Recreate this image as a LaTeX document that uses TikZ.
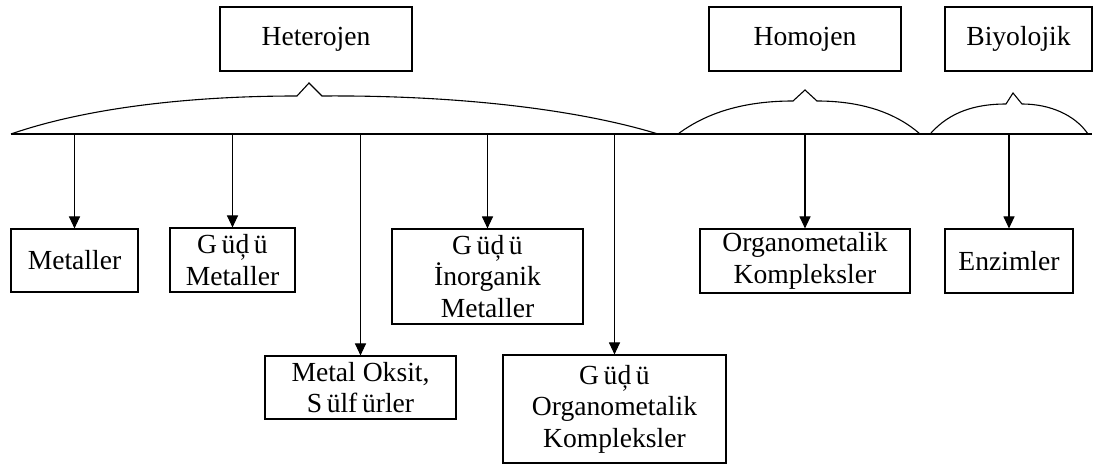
\documentclass[tikz,border=0pt]{standalone}
\usepackage{fontspec}
\setmainfont{Liberation Serif}
\usepackage{tikz}
\usetikzlibrary{arrows.meta}

\begin{document}
\begin{tikzpicture}[x=0.5pt, y=-0.5pt, line width=0.55pt,
    box/.style={draw, align=center, inner sep=0pt, font={\fontsize{13.8pt}{15.75pt}\selectfont}},
    arr/.style={-{Triangle[length=6pt,width=5.5pt]}}]
                \useasboundingbox (0, 0) rectangle (1094, 464);

                % Top boxes
                \node[box, minimum width=96pt, minimum height=32pt] (het) at (316, 39) {Heterojen};
                \node[box, minimum width=96pt, minimum height=32pt] (hom) at (805, 39) {Homojen};
                \node[box, minimum width=73.5pt, minimum height=32pt] (bio) at (1018.5, 39) {Biyolojik};

                % Base line
                \coordinate (L) at (11, 134);
                \coordinate (R) at (1092, 134);
                \draw (L) -- (R);

                % Braces
                \draw (L) .. controls (80, 110) and (180, 96) .. (297, 96) -- (309, 83) -- (322, 96)
                          .. controls (460, 95) and (580, 110) .. (658, 134);
                \draw (678, 134) .. controls (710, 110) and (750, 101) .. (793, 101) -- (805, 90) -- (817, 101)
                          .. controls (860, 101) and (895, 112) .. (920, 134);
                \draw (931, 133) .. controls (950, 112) and (975, 104) .. (1006, 104) -- (1013, 93) -- (1022, 104)
                          .. controls (1050, 104) and (1075, 115) .. (1088, 134);

                % Bottom boxes
                \node[box, minimum width=63.5pt, minimum height=31.5pt] (met) at (74.5, 260.5) {Metaller};
                \node[box, minimum width=62.5pt, minimum height=32pt] (gmet) at (232.5, 260) {G\,üḑ\,ü\\Metaller};
                \node[box, minimum width=95.5pt, minimum height=31.5pt] (oksit) at (360.5, 387.5) {Metal Oksit,\\S\,ülf\,ürler};
                \node[box, minimum width=95.5pt, minimum height=47.5pt] (ginorg) at (487.5, 276.5) {G\,üḑ\,ü\\İnorganik\\Metaller};
                \node[box, minimum width=111.5pt, minimum height=54pt] (gorg) at (614.5, 409) {G\,üḑ\,ü\\Organometalik\\Kompleksler};
                \node[box, minimum width=105pt, minimum height=32pt] (org) at (805, 261) {Organometalik\\Kompleksler};
                \node[box, minimum width=64pt, minimum height=32pt] (enz) at (1009, 261) {Enzimler};

                % Arrows
                \foreach \n in {met, gmet, oksit, ginorg, gorg, org, enz}
                    \draw[arr] (\n.north |- L) -- (\n.north);
            \end{tikzpicture}
\end{document}
